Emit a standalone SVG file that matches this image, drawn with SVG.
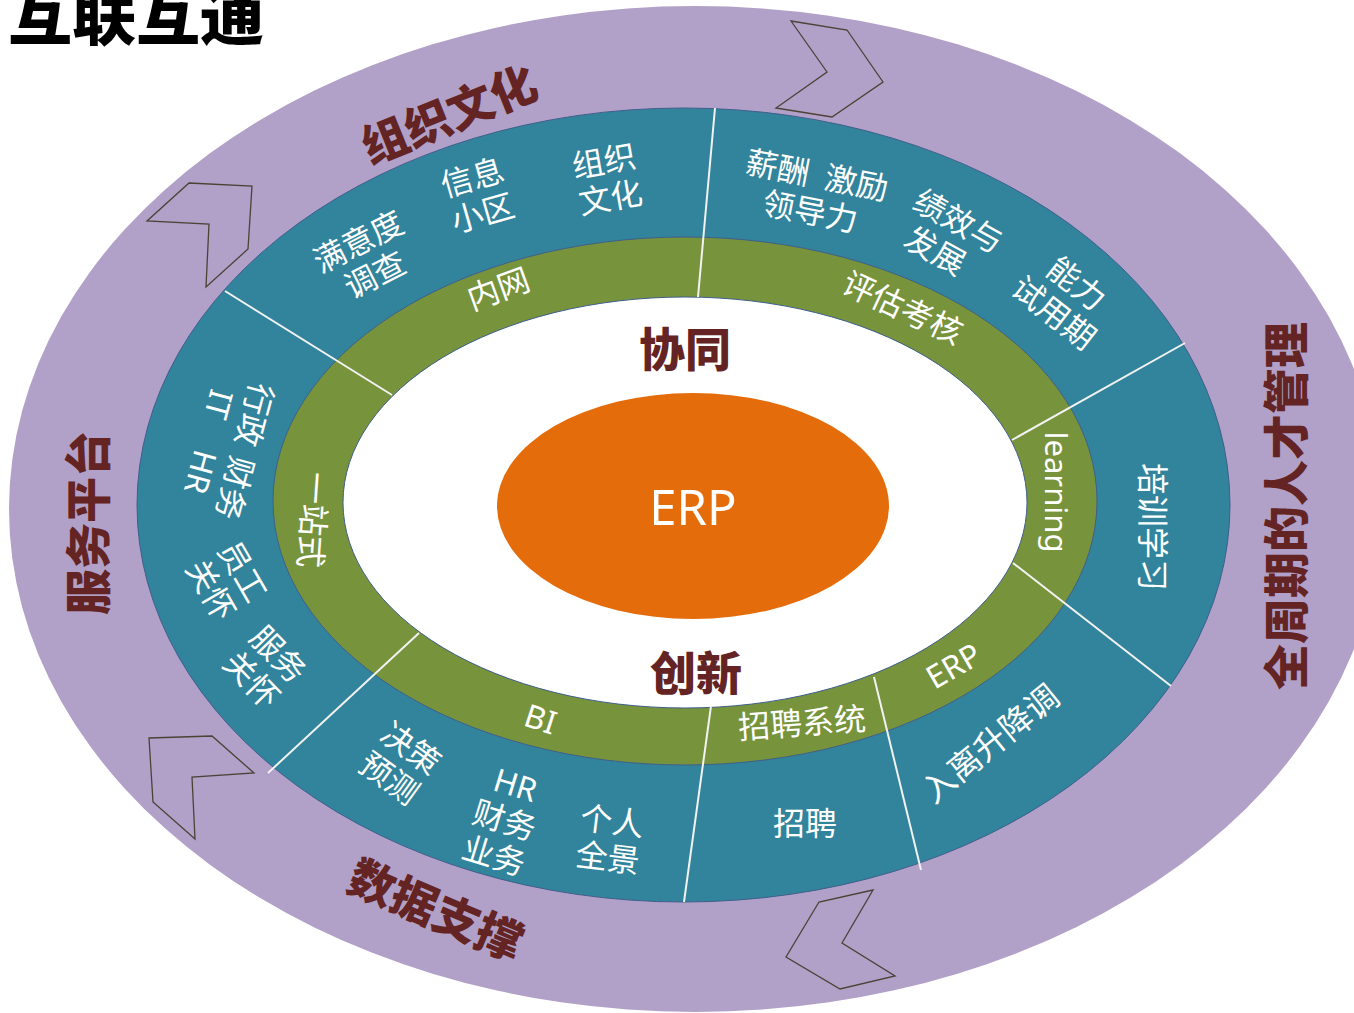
<svg xmlns="http://www.w3.org/2000/svg" width="1354" height="1013" viewBox="0 0 1354 1013">
<defs>
<style>
.ring{stroke:#3f5f8c;stroke-width:1}
.chev{fill:none;stroke:#4d4236;stroke-width:1.3}
.div{stroke:#f2f2f2;stroke-width:2;fill:none}
.w{fill:#ffffff;font-family:"Noto Sans","Noto Sans CJK SC",sans-serif;font-size:32px;text-anchor:middle;dominant-baseline:central}
.big{fill:#632423;font-family:"Noto Sans CJK SC",sans-serif;font-size:46px;font-weight:900;text-anchor:middle;dominant-baseline:central}
</style>
</defs>
<rect width="1354" height="1013" fill="#ffffff"/>
<g id="rings">
<ellipse id="ring-outer" cx="695" cy="509" rx="686" ry="503" fill="#b1a0c7"/>
<ellipse id="ring-teal" class="ring" cx="683.5" cy="505" rx="546.5" ry="397" fill="#31849b"/>
<ellipse id="ring-green" class="ring" cx="685" cy="501" rx="412" ry="264" fill="#77933c"/>
<ellipse id="ring-white" class="ring" cx="685" cy="502.5" rx="342" ry="205.5" fill="#ffffff"/>
</g>
<g id="chevrons">
<polygon class="chev" points="791,21 847,30 883,82 832,117 776,108 827,72"/>
<polygon class="chev" points="189,183 252,186 248,249 206,287 209,224 147,221"/>
<polygon class="chev" points="149,738 212,736 254,773 192,777 195,839 153,802"/>
<polygon class="chev" points="873,890 819,902 786,957 840,989 895,976 842,943"/>
</g>
<g id="connectors">
<line class="div" x1="715" y1="108" x2="698" y2="297"/>
<line class="div" x1="225" y1="291" x2="392" y2="395"/>
<line class="div" x1="1185" y1="343" x2="1012" y2="440"/>
<line class="div" x1="1013" y1="563" x2="1171" y2="686"/>
<line class="div" x1="268" y1="773" x2="419" y2="633"/>
<line class="div" x1="684" y1="902" x2="711" y2="706"/>
<line class="div" x1="874" y1="677" x2="921" y2="870"/>
</g>
<g id="title"><text x="8" y="39" font-family="Noto Sans CJK SC,sans-serif" font-size="64" font-weight="900" fill="#000000">互联互通</text></g>
<g id="node-erp">
<ellipse cx="693" cy="506" rx="196" ry="113" fill="#e46c0a"/>
<text class="w" x="693" y="506" style="font-size:49px">ERP</text>
</g>
<g id="node-xietong"><text class="big" x="685" y="346">协同</text></g>
<g id="node-chuangxin"><text class="big" x="696" y="670">创新</text></g>
<g id="outer-labels">
<text class="big" transform="translate(448,112) rotate(-22)">组织文化</text>
<text class="big" transform="translate(1283,506) rotate(-90)">全周期的人才管理</text>
<text class="big" transform="translate(85,523) rotate(-90)">服务平台</text>
<text class="big" transform="translate(437,907) rotate(23)">数据支撑</text>
</g>
<g id="teal-labels">
<g id="t-manyidu"><text class="w" transform="translate(366,257) rotate(-27)"><tspan x="0" y="-18.5">满意度</tspan><tspan x="0" y="18.5">调查</tspan></text></g>
<g id="t-xinxi"><text class="w" transform="translate(477,194) rotate(-16)"><tspan x="0" y="-18.5">信息</tspan><tspan x="0" y="18.5">小区</tspan></text></g>
<g id="t-zuzhi"><text class="w" transform="translate(607,178) rotate(-10)"><tspan x="0" y="-18.5">组织</tspan><tspan x="0" y="18.5">文化</tspan></text></g>
<g id="t-xinchou"><text class="w" transform="translate(814,192) rotate(11)"><tspan x="0" y="-18.5">薪酬<tspan dx="16">激励</tspan></tspan><tspan x="0" y="18.5">领导力</tspan></text></g>
<g id="t-jixiao"><text class="w" transform="translate(950,236) rotate(29)"><tspan x="0" y="-18.5">绩效与</tspan><tspan x="-6" y="18.5">发展</tspan></text></g>
<g id="t-nengli"><text class="w" transform="translate(1066,297) rotate(38)"><tspan x="0" y="-18.5">能力</tspan><tspan x="0" y="18.5">试用期</tspan></text></g>
<g id="t-peixun"><text class="w" transform="translate(1153,527) rotate(90)">培训学习</text></g>
<g id="t-rulisheng"><text class="w" transform="translate(990,743) rotate(-39)" style="font-size:33px">入离升降调</text></g>
<g id="t-zhaopin"><text class="w" x="805" y="822">招聘</text></g>
<g id="t-geren"><text class="w" transform="translate(610,838) rotate(7)"><tspan x="0" y="-18.5">个人</tspan><tspan x="0" y="18.5">全景</tspan></text></g>
<g id="t-hr"><text class="w" transform="translate(505,819) rotate(17)"><tspan x="0" y="-37">HR</tspan><tspan x="0" y="0">财务</tspan><tspan x="0" y="37">业务</tspan></text></g>
<g id="t-juece"><text class="w" transform="translate(401,762) rotate(36)"><tspan x="0" y="-18.5">决策</tspan><tspan x="0" y="18.5">预测</tspan></text></g>
<g id="t-fuwu"><text class="w" transform="translate(266,666) rotate(46)"><tspan x="0" y="-18.5">服务</tspan><tspan x="0" y="18.5">关怀</tspan></text></g>
<g id="t-yuangong"><text class="w" transform="translate(228,580) rotate(60)"><tspan x="0" y="-18.5">员工</tspan><tspan x="0" y="18.5">关怀</tspan></text></g>
<g id="t-xingzheng"><text class="w" transform="translate(228,447) rotate(105)"><tspan x="0" y="-18.5">行政<tspan dx="12">财务</tspan></tspan><tspan x="0" y="18.5">IT<tspan dx="34">HR</tspan></tspan></text></g>
</g>
<g id="green-labels">
<g id="g-neiwang"><text class="w" transform="translate(498,288) rotate(-20)">内网</text></g>
<g id="g-pinggu"><text class="w" transform="translate(903,307) rotate(25)">评估考核</text></g>
<g id="g-learning"><text class="w" transform="translate(1057,492) rotate(90)" style="font-size:31px">learning</text></g>
<g id="g-erp"><text class="w" transform="translate(953,665) rotate(-30)">ERP</text></g>
<g id="g-zhaopinxitong"><text class="w" transform="translate(802,722) rotate(-4)">招聘系统</text></g>
<g id="g-bi"><text class="w" transform="translate(541,718) rotate(18)">BI</text></g>
<g id="g-yizhanshi"><text class="w" transform="translate(314,520) rotate(94)">一站式</text></g>
</g>
</svg>
